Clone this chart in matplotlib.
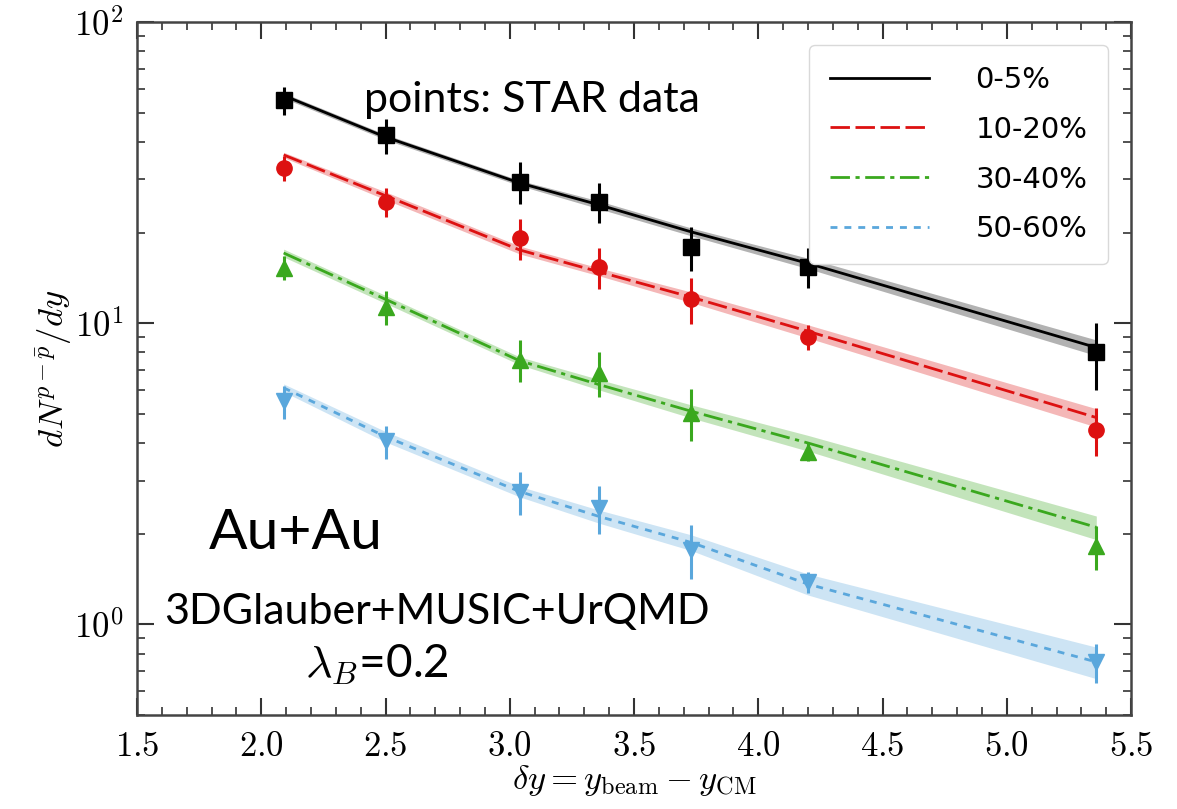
import matplotlib
matplotlib.use('Agg')
import matplotlib.pyplot as plt
import numpy as np
from matplotlib.ticker import MultipleLocator, FuncFormatter, LogLocator, NullFormatter

plt.rcParams['mathtext.fontset'] = 'cm'

# rapidity gap of each beam energy
dy = [2.09, 2.50, 3.04, 3.36, 3.73, 4.20, 5.36]

# STAR net-proton dN/dy and errors
star_0_5 = [55.0, 42.0, 29.5, 25.3, 17.9, 15.4, 8.0]
err_0_5 = [6.0, 5.5, 4.7, 3.8, 3.0, 2.3, 2.0]
star_10_20 = [32.8, 25.3, 19.2, 15.4, 12.0, 9.0, 4.43]
err_10_20 = [3.1, 2.8, 3.0, 2.4, 2.1, 0.85, 0.8]
star_30_40 = [15.3, 11.3, 7.57, 6.85, 5.05, 3.74, 1.82]
err_30_40 = [1.4, 1.45, 1.2, 1.15, 1.0, 0.25, 0.3]
star_50_60 = [5.5, 4.05, 2.76, 2.44, 1.77, 1.38, 0.75]
err_50_60 = [0.7, 0.52, 0.45, 0.44, 0.36, 0.11, 0.11]

# model curves (3DGlauber+MUSIC+UrQMD)
model_0_5 = [57.0, 41.5, 29.2, 24.7, 20.1, 15.8, 8.3]
model_10_20 = [36.2, 26.5, 17.5, 14.8, 12.2, 9.4, 4.86]
model_30_40 = [17.1, 12.0, 7.5, 6.25, 5.1, 4.0, 2.1]
model_50_60 = [6.1, 4.2, 2.76, 2.28, 1.87, 1.36, 0.75]

# relative half-width of the model bands
band_0_5 = [0.02, 0.02, 0.02, 0.03, 0.03, 0.04, 0.06]
band_10_20 = [0.02, 0.03, 0.03, 0.03, 0.04, 0.05, 0.07]
band_30_40 = [0.03, 0.03, 0.03, 0.04, 0.05, 0.06, 0.09]
band_50_60 = [0.03, 0.04, 0.04, 0.05, 0.06, 0.08, 0.12]

labels = ['0-5%', '10-20%', '30-40%', '50-60%']

fig = plt.figure(figsize=(11.77, 8.09), dpi=100)
ax = fig.add_axes([0.1164, 0.1162, 0.8446, 0.8566])

series = [
    (model_0_5, band_0_5, star_0_5, err_0_5, 'black', 's', (None, None)),
    (model_10_20, band_10_20, star_10_20, err_10_20, '#dd1111', 'o', (7, 2)),
    (model_30_40, band_30_40, star_30_40, err_30_40, '#3aa81e', '^', (7, 2, 1.5, 2)),
    (model_50_60, band_50_60, star_50_60, err_50_60, '#5aa7dc', 'v', (2.5, 2.5)),
]

for (model, band, star, err, color, marker, dashes), label in zip(series, labels):
    lo = [m * (1 - b) for m, b in zip(model, band)]
    hi = [m * (1 + b) for m, b in zip(model, band)]
    ax.fill_between(dy, lo, hi, color=color, alpha=0.3, lw=0, zorder=1)
    line, = ax.plot(dy, model, color=color, lw=2, label=label, zorder=2)
    if dashes[0] is not None:
        line.set_dashes(dashes)
    ax.errorbar(dy, star, yerr=err, fmt=marker, color=color, ms=11,
                elinewidth=2.2, capsize=0, zorder=3)

ax.set_yscale('log')
ax.set_xlim(1.5, 5.5)
ax.set_ylim(0.5, 100)
ax.xaxis.set_major_locator(MultipleLocator(0.5))
ax.xaxis.set_minor_locator(MultipleLocator(0.1))
ax.xaxis.set_major_formatter(FuncFormatter(lambda v, p: r'$%.1f$' % v))
ax.yaxis.set_major_locator(LogLocator(base=10))
ax.yaxis.set_minor_locator(LogLocator(base=10, subs=np.arange(2, 10)))
ax.yaxis.set_major_formatter(FuncFormatter(lambda v, p: r'$10^{%d}$' % round(np.log10(v))))
ax.yaxis.set_minor_formatter(NullFormatter())
ax.tick_params(which='both', direction='in', top=True, right=True,
               labelsize=25, color='#333333')
ax.tick_params(which='major', length=12, width=1.5, pad=10)
ax.tick_params(which='minor', length=6, width=1.2)
for sp in ax.spines.values():
    sp.set_color('#444444')
    sp.set_linewidth(1.8)

ax.set_xlabel(r'$\delta y = y_{\rm beam} - y_{\rm CM}$', fontsize=25, labelpad=0)
ax.set_ylabel(r'$dN^{p-\bar{p}}/dy$', fontsize=25, labelpad=0)

leg = ax.legend(loc='upper right', fontsize=21, handlelength=3.4,
                labelspacing=0.75, borderaxespad=0.8, handletextpad=1.6,
                borderpad=0.7, edgecolor='0.85', framealpha=1)

txt_font = ['Lato', 'DejaVu Sans']
ax.text(0.397, 0.887, 'points: STAR data', transform=ax.transAxes,
        fontsize=31, family=txt_font, ha='center', va='center')
ax.text(0.16, 0.262, 'Au+Au', transform=ax.transAxes,
        fontsize=41, family=txt_font, ha='center', va='center')
ax.text(0.302, 0.149, '3DGlauber+MUSIC+UrQMD', transform=ax.transAxes,
        fontsize=31, family=txt_font, ha='center', va='center')
ax.text(0.241, 0.072, r'$\lambda_B$=0.2', transform=ax.transAxes,
        fontsize=33, family=txt_font, ha='center', va='center')

fig.savefig('out.png', dpi=100)
